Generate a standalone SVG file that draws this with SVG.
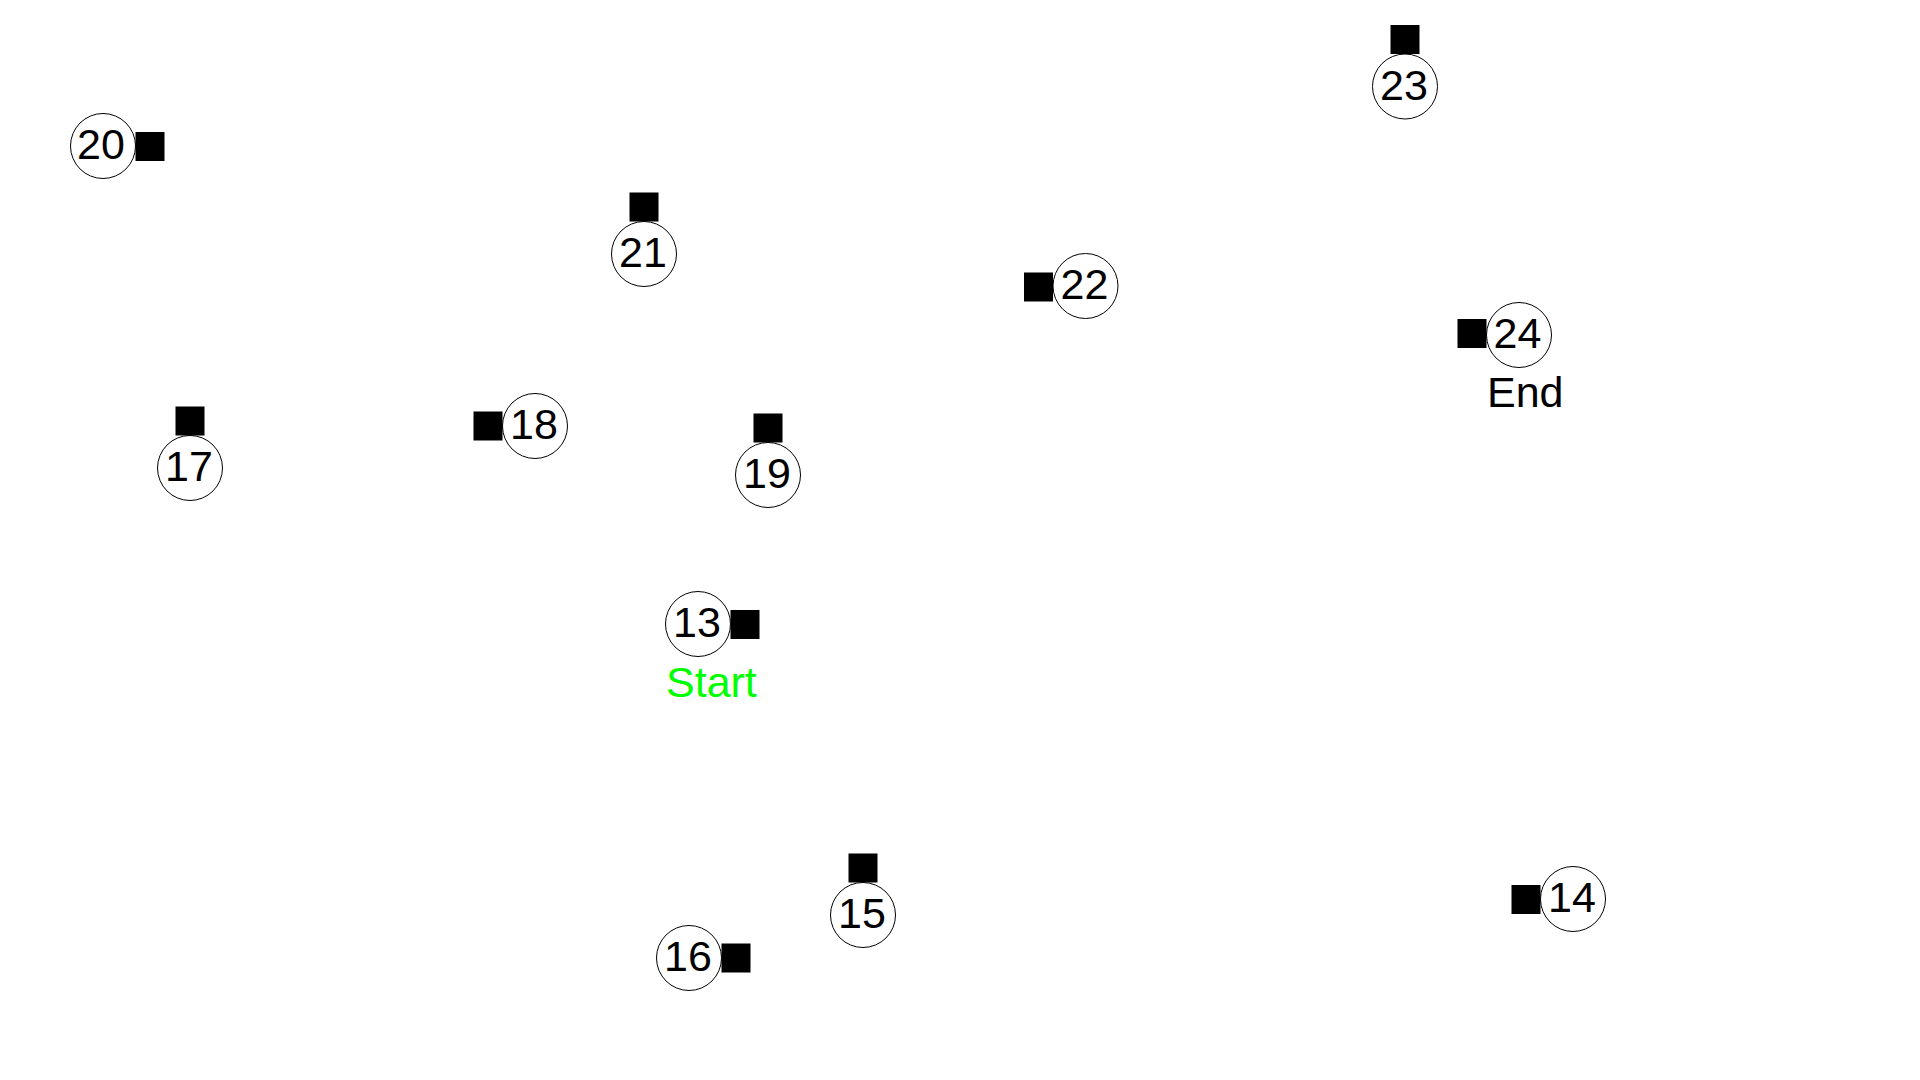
<svg xmlns="http://www.w3.org/2000/svg" width="1920" height="1080" viewBox="0 0 1920 1080">
<style>
.c{fill:#fff;stroke:#000;stroke-width:1}
.s{fill:#000}
.t{font-family:"Liberation Sans",Arial,sans-serif;font-size:43px;fill:#000;text-anchor:middle}
.l{font-family:"Liberation Sans",Arial,sans-serif;font-size:43px}
</style>
<rect width="1920" height="1080" fill="#fff"/>
<g id="connectors"></g>
<g id="n13"><circle class="c" cx="698" cy="624" r="32.5"/><rect class="s" x="730.5" y="610" width="29" height="29"/><text class="t" x="697" y="637">13</text><text class="l" x="666" y="697" fill="#00ff00">Start</text></g>
<g id="n14"><circle class="c" cx="1573" cy="899" r="32.5"/><rect class="s" x="1511.5" y="885" width="29" height="29"/><text class="t" x="1572" y="912">14</text></g>
<g id="n15"><circle class="c" cx="863" cy="915" r="32.5"/><rect class="s" x="848.5" y="853.5" width="29" height="29"/><text class="t" x="862" y="928">15</text></g>
<g id="n16"><circle class="c" cx="689" cy="958" r="32.5"/><rect class="s" x="721.5" y="943.5" width="29" height="29"/><text class="t" x="688" y="971">16</text></g>
<g id="n17"><circle class="c" cx="190" cy="468" r="32.5"/><rect class="s" x="175.5" y="406.5" width="29" height="29"/><text class="t" x="189" y="481">17</text></g>
<g id="n18"><circle class="c" cx="535" cy="426" r="32.5"/><rect class="s" x="473.5" y="411.5" width="29" height="29"/><text class="t" x="534" y="439">18</text></g>
<g id="n19"><circle class="c" cx="768" cy="475" r="32.5"/><rect class="s" x="753.5" y="413.5" width="29" height="29"/><text class="t" x="767" y="488">19</text></g>
<g id="n20"><circle class="c" cx="103" cy="146" r="32.5"/><rect class="s" x="135.5" y="132" width="29" height="29"/><text class="t" x="101" y="159">20</text></g>
<g id="n21"><circle class="c" cx="644" cy="254" r="32.5"/><rect class="s" x="629.5" y="192.5" width="29" height="29"/><text class="t" x="643" y="267">21</text></g>
<g id="n22"><circle class="c" cx="1085.5" cy="286" r="32.5"/><rect class="s" x="1024" y="272.5" width="29" height="29"/><text class="t" x="1084.5" y="299">22</text></g>
<g id="n23"><circle class="c" cx="1405" cy="86.5" r="32.5"/><rect class="s" x="1390.5" y="25" width="29" height="29"/><text class="t" x="1404" y="99.5">23</text></g>
<g id="n24"><circle class="c" cx="1519" cy="335" r="32.5"/><rect class="s" x="1457.5" y="319" width="29" height="29"/><text class="t" x="1517.5" y="348">24</text><text class="l" x="1487" y="407" fill="#000">End</text></g>
</svg>
